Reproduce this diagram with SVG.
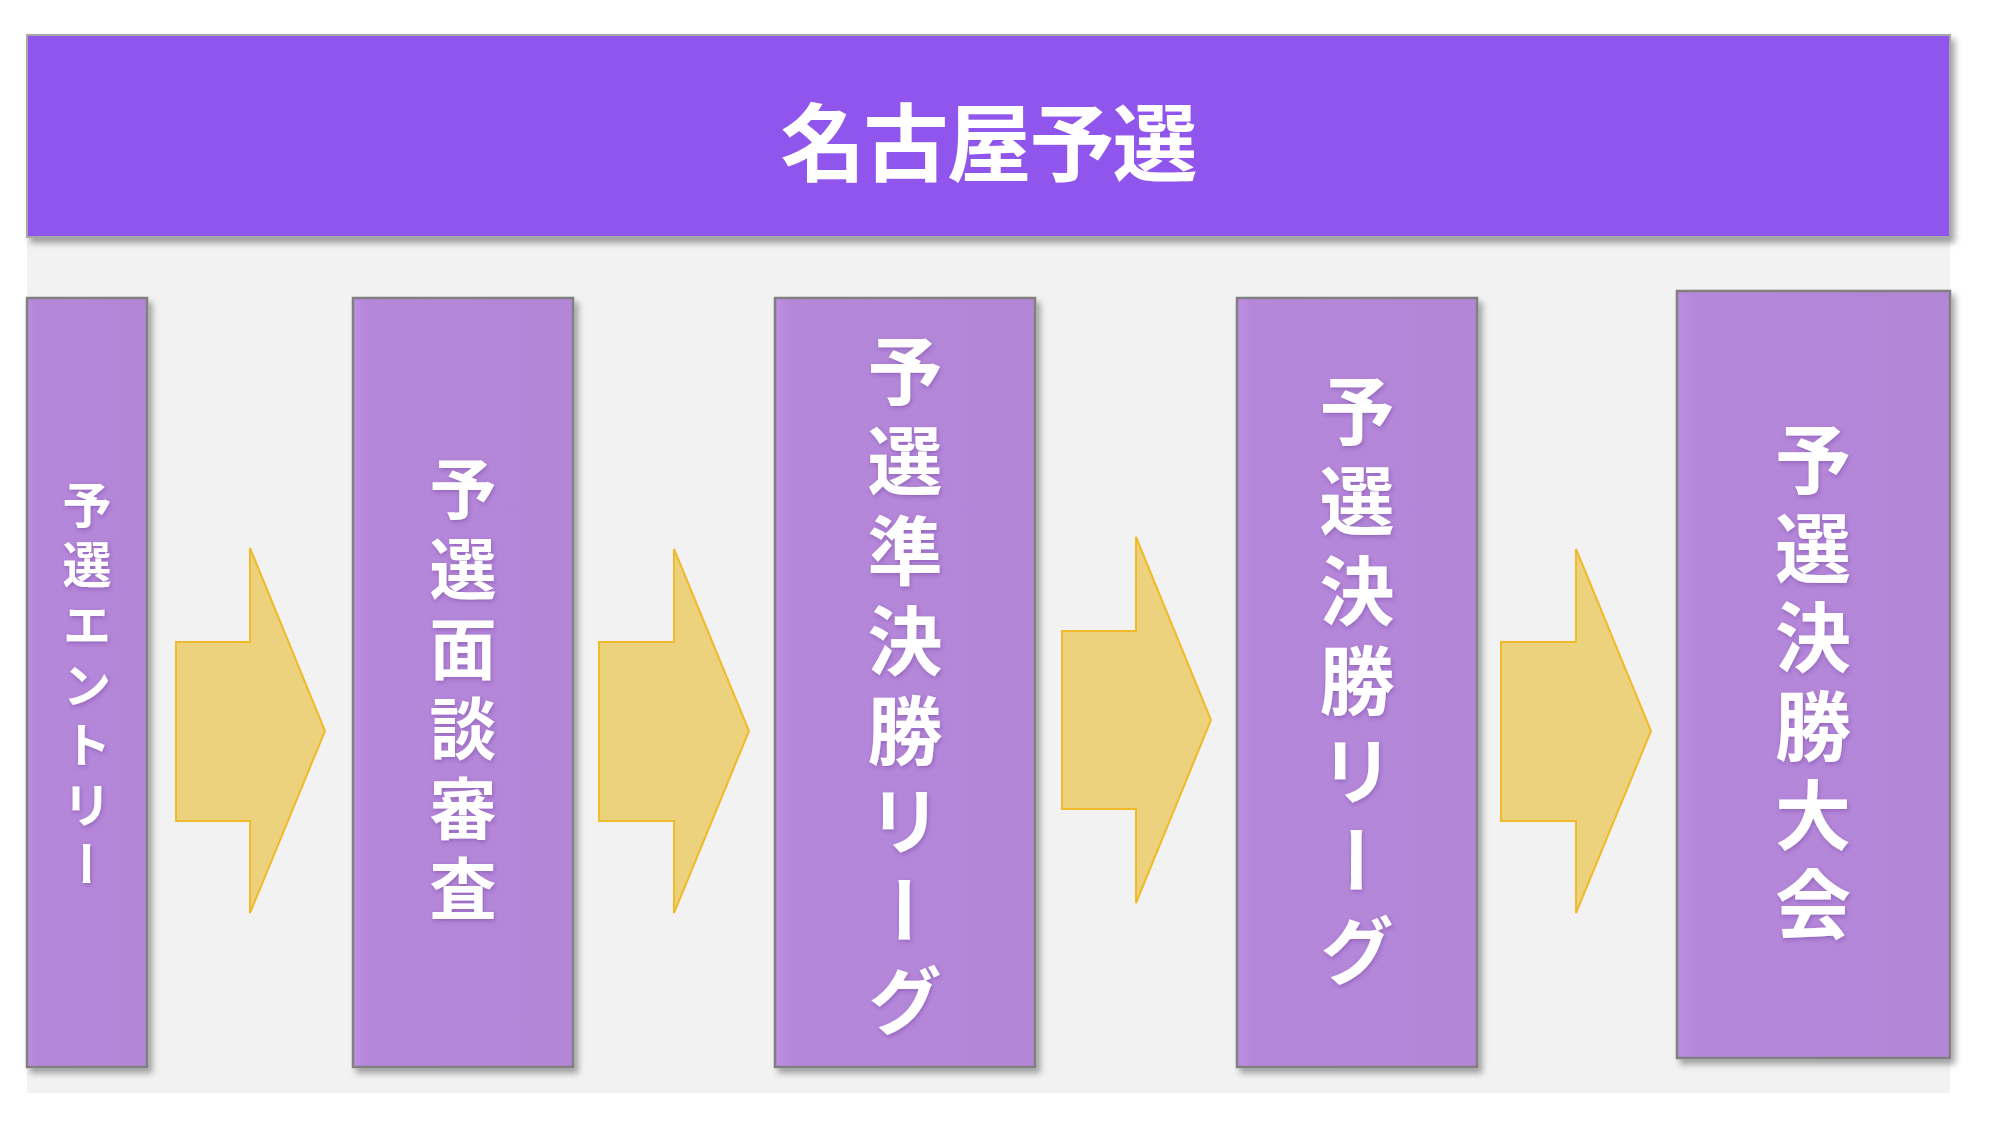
<svg xmlns="http://www.w3.org/2000/svg" width="2000" height="1125" viewBox="0 0 2000 1125">
  <defs>
    <filter id="shadow" x="-10%" y="-10%" width="130%" height="130%">
      <feDropShadow dx="4" dy="5" stdDeviation="3" flood-color="#000" flood-opacity="0.35"/>
    </filter>
    <filter id="tshadow" x="-20%" y="-20%" width="140%" height="140%">
      <feDropShadow dx="1" dy="2" stdDeviation="2" flood-color="#5a2a8a" flood-opacity="0.35"/>
    </filter>
    <linearGradient id="boxgrad" x1="0" y1="0" x2="1" y2="0">
      <stop offset="0" stop-color="#BE8EE2"/>
      <stop offset="0.06" stop-color="#B587DA"/>
      <stop offset="1" stop-color="#B386D8"/>
    </linearGradient>
  </defs>
  <style>
    .bg { fill: #F2F2F2; }
    .banner { fill: #8F54EC; stroke: #A8A8A8; stroke-width: 2; }
    .box { fill: url(#boxgrad); stroke: #808080; stroke-width: 2.5; }
    .arrow { fill: #EDD27D; stroke: #EFBB2C; stroke-width: 2; }
    .label { fill: #FFFFFF; font-family: "Noto Sans CJK JP", "Noto Sans CJK SC", sans-serif; font-weight: 700; }
    .vlabel { writing-mode: vertical-rl; text-anchor: middle; }
  </style>

  <rect width="2000" height="1125" fill="#FFFFFF"/>
  <rect class="bg" x="27" y="237" width="1923" height="856"/>

  <g id="banner" filter="url(#shadow)">
    <rect class="banner" x="27" y="35" width="1923" height="202"/>
    <text class="label" x="988" y="137" font-size="85" letter-spacing="-2" text-anchor="middle" dominant-baseline="central">名古屋予選</text>
  </g>

  <g id="connectors">
    <polygon class="arrow" points="176,642 250,642 250,548 325,731 250,913 250,821 176,821"/>
    <polygon class="arrow" points="599,642 674,642 674,549 749,731 674,913 674,821 599,821"/>
    <polygon class="arrow" points="1062,631 1136,631 1136,537 1211,720 1136,903 1136,809 1062,809"/>
    <polygon class="arrow" points="1501,642 1576,642 1576,549 1651,731 1576,913 1576,821 1501,821"/>
  </g>

  <g id="node-entry">
    <rect class="box" x="27" y="298" width="120" height="769" filter="url(#shadow)"/>
    <text class="label vlabel" x="87" y="690" font-size="49" letter-spacing="11" filter="url(#tshadow)">予選エントリー</text>
  </g>

  <g id="node-interview">
    <rect class="box" x="353" y="298" width="220" height="769" filter="url(#shadow)"/>
    <text class="label vlabel" x="463" y="695" font-size="67" letter-spacing="13" filter="url(#tshadow)">予選面談審査</text>
  </g>

  <g id="node-semifinal">
    <rect class="box" x="775" y="298" width="260" height="769" filter="url(#shadow)"/>
    <text class="label vlabel" x="905" y="693" font-size="75" letter-spacing="15" filter="url(#tshadow)">予選準決勝リーグ</text>
  </g>

  <g id="node-final-league">
    <rect class="box" x="1237" y="298" width="240" height="769" filter="url(#shadow)"/>
    <text class="label vlabel" x="1357" y="688" font-size="75" letter-spacing="15" filter="url(#tshadow)">予選決勝リーグ</text>
  </g>

  <g id="node-final">
    <rect class="box" x="1677" y="291" width="273" height="767" filter="url(#shadow)"/>
    <text class="label vlabel" x="1813" y="688" font-size="76" letter-spacing="13" filter="url(#tshadow)">予選決勝大会</text>
  </g>
</svg>
